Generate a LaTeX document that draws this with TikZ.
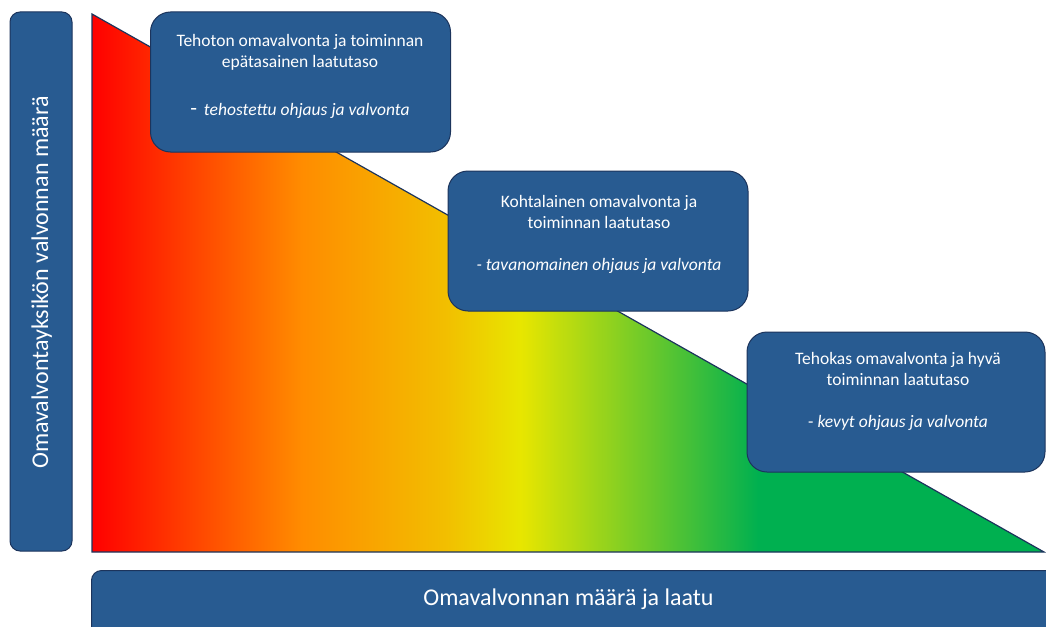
\documentclass[tikz,border=0pt]{standalone}
\usepackage{fontspec}
\setmainfont{Carlito}
\usepackage{tikz}
\usetikzlibrary{positioning}

\definecolor{boxblue}{RGB}{40,91,145}
\definecolor{boxline}{RGB}{28,52,92}
\definecolor{tlred}{RGB}{255,0,0}
\definecolor{tlorange}{RGB}{255,140,0}
\definecolor{tlamber}{RGB}{242,190,0}
\definecolor{tlyellow}{RGB}{232,230,0}
\definecolor{tlgreen}{RGB}{0,176,80}
\pgfdeclarehorizontalshading{traffic}{100bp}{color(0bp)=(tlred); color(25bp)=(tlred); color(36bp)=(tlorange); color(43.5bp)=(tlamber); color(47.5bp)=(tlyellow); color(60bp)=(tlgreen); color(100bp)=(tlgreen)}

\tikzset{
  infobox/.style={draw=boxline,line width=1pt,fill=boxblue,rounded corners=20pt,minimum width=300pt,minimum height=140pt,inner sep=0pt},
  axisbox/.style={draw=boxline,line width=1pt,fill=boxblue,rounded corners=10pt,inner sep=0pt},
  infotext/.style={text=white,align=center,anchor=north,inner sep=0pt,font=\fontsize{17.5}{21.5}\selectfont},
  axistext/.style={text=white,inner sep=0pt,font=\fontsize{24}{28}\selectfont}
}

\begin{document}
\begin{tikzpicture}[x=1pt,y=-1pt]
            \useasboundingbox (0,0) rectangle (1046,626);
            \shadedraw[shading=traffic,draw=boxline,line width=1.2pt] (92,14)--(92,552)--(1044,552)--cycle;
            \node[axisbox,minimum width=62pt,minimum height=539pt] (vaxis) at (41,281.5) {};
            \node[axistext,rotate=90,anchor=base] (vlabel) at (48,282.5) {Omavalvontayksikön valvonnan määrä};
            \node[axisbox,minimum width=975pt,minimum height=80pt,anchor=north west] (haxis) at (91,570) {};
            \node[axistext,anchor=base] (hlabel) at (568.5,605) {Omavalvonnan määrä ja laatu};
            \node[infobox] (tehoton) at (300.5,82) {};
            \node[infotext] (tehotontext) at (300,33.7) {Tehoton omavalvonta ja toiminnan\\ epätasainen laatutaso\\[26.5pt] {\fontsize{22}{22}\selectfont -}\, \textit{tehostettu ohjaus ja valvonta}};
            \node[infobox] (kohtalainen) at (598,241) {};
            \node[infotext] (kohtalainentext) at (599,194.7) {Kohtalainen omavalvonta ja\\ toiminnan laatutaso\\[20.5pt] \textit{- tavanomainen ohjaus ja valvonta}};
            \node[infobox,minimum width=298pt] (tehokas) at (896,402) {};
            \node[infotext] (tehokastext) at (898,351.7) {Tehokas omavalvonta ja hyvä\\ toiminnan laatutaso\\[20pt] - \textit{kevyt ohjaus ja valvonta}};
          \end{tikzpicture}
\end{document}
